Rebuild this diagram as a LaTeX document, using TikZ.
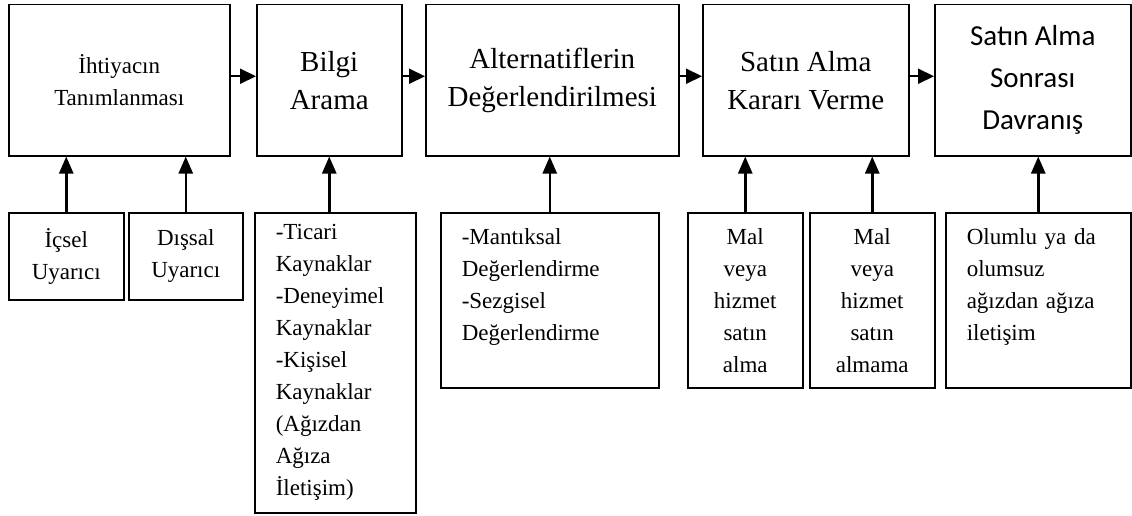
\documentclass[tikz,border=0pt]{standalone}
\usepackage{fontspec}
\setmainfont{Liberation Serif}
\newfontfamily\calibri{Carlito}
\usetikzlibrary{arrows.meta}

\begin{document}
\begin{tikzpicture}[x = 1pt, y = -1pt,
  every node/.style = {draw, line width = 1.5pt, anchor = north west, inner sep = 0pt, align = center},
  stage/.style = {minimum height = 151pt, font = \fontsize{29}{38}\selectfont},
  factor/.style = {font = \fontsize{23}{32}\selectfont},
  list/.style = {factor, align = left, inner xsep = 21pt},
  flow/.style = {line width = 2pt, -{Triangle[length = 16pt, width = 15pt]}},
  cause/.style = {line width = 2.5pt, -{Triangle[length = 17pt, width = 14pt]}}]

  \useasboundingbox (0, 0) rectangle (1132, 516);

  \node [stage, minimum width = 221pt, font = \fontsize{23}{32}\selectfont] (need) at (8, 4) { İhtiyacın\\ Tanımlanması };
  \node [stage, minimum width = 145pt] (search) at (256, 4) { Bilgi\\ Arama };
  \node [stage, minimum width = 253pt] (evaluate) at (425, 4) { Alternatiflerin\\ Değerlendirilmesi };
  \node [stage, minimum width = 206pt] (decide) at (702, 4) { Satın Alma\\ Kararı Verme };
  \node [stage, minimum width = 196pt, font = \calibri\fontsize{29}{42}\selectfont] (after) at (934, 4) { Satın Alma\\ Sonrası\\ Davranış };

  \draw [flow] ([yshift = 4pt] need.east) -- ([yshift = 4pt] search.west);
  \draw [flow] ([yshift = 4pt] search.east) -- ([yshift = 4pt] evaluate.west);
  \draw [flow] ([yshift = 4pt] evaluate.east) -- ([yshift = 4pt] decide.west);
  \draw [flow] ([yshift = 4pt] decide.east) -- ([yshift = 4pt] after.west);

  \node [factor, minimum width = 115pt, minimum height = 87pt] (inner) at (8, 212) { İçsel\\ Uyarıcı };
  \node [factor, minimum width = 114pt, minimum height = 87pt] (outer) at (128, 212) { Dışsal\\ Uyarıcı };
  \node [list, text width = 119pt, minimum height = 300pt] (sources) at (254, 212) { -Ticari\\ Kaynaklar\\ -Deneyimel\\ Kaynaklar\\ -Kişisel\\ Kaynaklar\\ (Ağızdan\\ Ağıza\\ İletişim) };
  \node [list, text width = 176pt, minimum height = 175pt] (criteria) at (440, 212) { -Mantıksal\\ Değerlendirme\\ -Sezgisel\\ Değerlendirme\\ \mbox{} };
  \node [factor, minimum width = 115pt, minimum height = 175pt] (buy) at (687, 212) { Mal\\ veya\\ hizmet\\ satın\\ alma };
  \node [factor, minimum width = 125pt, minimum height = 175pt] (nobuy) at (809, 212) { Mal\\ veya\\ hizmet\\ satın\\ almama };
  \node [list, text width = 143pt, minimum height = 175pt] (wom) at (945, 212) { Olumlu ya da\\ olumsuz\\ ağızdan ağıza\\ iletişim\\ \mbox{} };

  \draw [cause] (inner.north) -- (inner.north |- need.south);
  \draw [cause] (outer.north) -- (outer.north |- need.south);
  \draw [cause] (search.south |- sources.north) -- (search.south);
  \draw [cause] (criteria.north) -- (criteria.north |- evaluate.south);
  \draw [cause] (buy.north) -- (buy.north |- decide.south);
  \draw [cause] (nobuy.north) -- (nobuy.north |- decide.south);
  \draw [cause] (wom.north) -- (wom.north |- after.south);

\end{tikzpicture}
\end{document}
